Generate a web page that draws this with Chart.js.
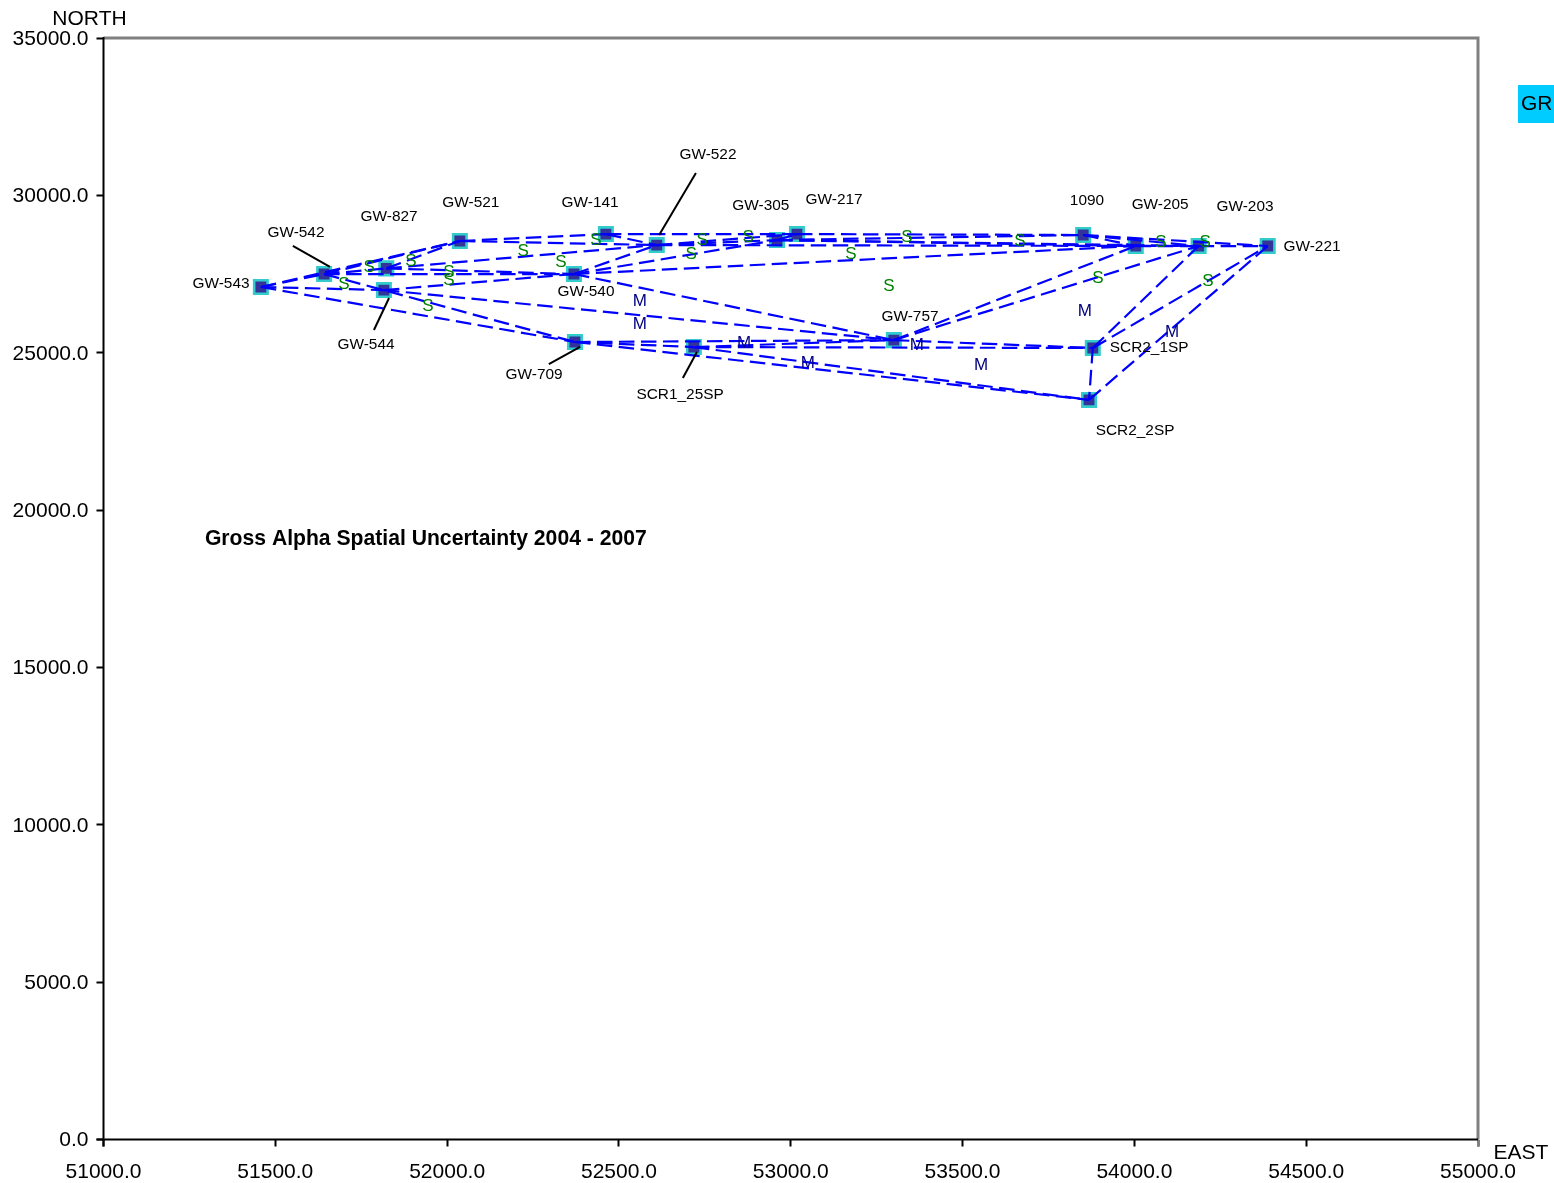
<!DOCTYPE html>
<html><head><meta charset="utf-8">
<style>html,body{margin:0;padding:0;background:#fff;overflow:hidden}canvas{display:block}</style>
<script src="https://cdn.jsdelivr.net/npm/chart.js@4"></script>
</head><body><canvas id="c" width="1554" height="1183" style="width:1554px;height:1183px"></canvas>
<script>
const wellNames=["GW-543","GW-542","GW-827","GW-544","GW-521","GW-141","GW-522","GW-540","GW-709","SCR1_25SP","GW-305","GW-217","GW-757","1090","GW-205","GW-203","GW-221","SCR2_1SP","SCR2_2SP"];
const wellEast=[51458,51642,51823,51816,52037,52462,52610,52369,52372,52718,52960,53018,53300,53851,54004,54187,54388,53879,53868];
const wellNorth=[27088,27500,27680,26990,28550,28770,28420,27500,25340,25180,28580,28770,25400,28740,28390,28390,28390,25150,23500];
const labelEast=[51342,51560,51831,51764,52069,52416,52759,52404,52253,52678,52913,53126,53347,53862,54075,54322,54517,54043,54002];
const labelNorth=[27215,28836,29344,25277,29789,29789,31314,26961,24324,23688,29694,29885,26167,29852,29726,29662,28391,25182,22545];
const edges=[["GW-543","GW-542"],["GW-543","GW-521"],["GW-543","GW-544"],["GW-543","GW-709"],
["GW-542","GW-521"],["GW-542","GW-827"],["GW-542","GW-540"],["GW-542","GW-709"],["GW-827","GW-521"],["GW-827","GW-540"],["GW-827","GW-522"],
["GW-544","GW-540"],["GW-544","GW-757"],["GW-521","GW-141"],["GW-521","GW-522"],["GW-141","GW-522"],["GW-141","GW-217"],
["GW-540","GW-522"],["GW-540","GW-305"],["GW-540","GW-205"],["GW-540","GW-757"],["GW-522","GW-305"],["GW-522","GW-217"],["GW-522","GW-203"],["GW-305","GW-217"],
["GW-217","1090"],["GW-305","1090"],["GW-305","GW-205"],["GW-305","GW-203"],["1090","GW-205"],["1090","GW-203"],["1090","GW-221"],["GW-205","GW-203"],["GW-203","GW-221"],
["GW-709","SCR1_25SP"],["GW-709","GW-757"],["GW-709","SCR2_2SP"],["SCR1_25SP","GW-757"],["SCR1_25SP","SCR2_1SP"],["SCR1_25SP","SCR2_2SP"],
["GW-757","SCR2_1SP"],["GW-757","GW-205"],["GW-757","GW-203"],["SCR2_1SP","GW-203"],["SCR2_1SP","GW-221"],["SCR2_1SP","SCR2_2SP"],["SCR2_2SP","GW-221"]];
const sEast=[51700,51773,51895,51944,52005,52005,52221,52331,52433,52710,52742,52876,53175,53286,53338,53667,54077,54206,53894,54214];
const sNorth=[27215,27756,27946,26516,27597,27342,28264,27914,28613,28169,28613,28709,28169,27152,28709,28582,28550,28550,27406,27311];
const mEast=[52561,52561,52864,53050,53367,53554,53856,54110];
const mNorth=[26675,25944,25340,24705,25277,24641,26358,25690];
const leaderLines=[[[51551,28391],[51659,27724]],[[52724,30710],[52617,28741]],[[51787,25722],[51831,26739]],[[52296,24641],[52387,25182]],[[52686,24197],[52727,25023]]];
const chartTitle="Gross Alpha Spatial Uncertainty 2004 - 2007";
const titleEast=51938, titleNorth=19113;
const xTicks=[51000,51500,52000,52500,53000,53500,54000,54500,55000];
const yTicks=[0,5000,10000,15000,20000,25000,30000,35000];

const FONT='"Liberation Sans",Arial,sans-serif';
const idx=n=>wellNames.indexOf(n);
const wellPts=wellEast.map((x,i)=>({x,y:wellNorth[i]}));
const datasets=[];
edges.forEach(([a,b])=>datasets.push({type:'line',data:[wellPts[idx(a)],wellPts[idx(b)]],borderColor:'#0000FF',borderWidth:2.2,borderDash:[15.5,6.5],pointRadius:0,fill:false,tension:0,order:2}));
leaderLines.forEach(l=>datasets.push({type:'line',data:l.map(p=>({x:p[0],y:p[1]})),borderColor:'#000',borderWidth:2,pointRadius:0,fill:false,order:1}));
datasets.push({type:'scatter',data:wellPts,pointStyle:'rect',pointRadius:9.5,pointBackgroundColor:'#333399',pointBorderColor:'#33CCCC',pointBorderWidth:2.6,showLine:false,order:5});

const drawText={id:'drawText',afterDatasetsDraw(ch){
  const c=ch.ctx,X=ch.scales.x,Y=ch.scales.y;c.save();
  c.textAlign='center';c.textBaseline='middle';
  c.font='17px '+FONT;c.fillStyle='#008000';
  sEast.forEach((x,i)=>c.fillText('S',X.getPixelForValue(x),Y.getPixelForValue(sNorth[i])+1));
  c.fillStyle='#000080';
  mEast.forEach((x,i)=>c.fillText('M',X.getPixelForValue(x),Y.getPixelForValue(mNorth[i])+1));
  c.font='15.4px '+FONT;c.fillStyle='#000';
  wellNames.forEach((n,i)=>c.fillText(n,X.getPixelForValue(labelEast[i]),Y.getPixelForValue(labelNorth[i])+1));
  c.font='bold 21.15px '+FONT;
  c.fillText(chartTitle,X.getPixelForValue(titleEast),Y.getPixelForValue(titleNorth)+1);
  const a=ch.chartArea;
  c.font='21px '+FONT;
  c.fillText('NORTH',a.left-14,a.top-19);
  c.fillText('EAST',a.right+43,a.bottom+14);
  c.fillStyle='#00CCFF';c.fillRect(a.right+40,a.top+47,36,38);
  c.fillStyle='#000';c.textAlign='left';c.font='21px '+FONT;
  c.fillText('GR',a.right+43,a.top+66);
  c.lineCap='butt';
  c.strokeStyle='#808080';c.lineWidth=3;
  c.beginPath();c.moveTo(a.left,a.top);c.lineTo(a.right,a.top);c.lineTo(a.right,a.bottom);c.stroke();
  c.lineWidth=2;c.beginPath();c.moveTo(a.right,a.bottom);c.lineTo(a.right,a.bottom+7);c.stroke();
  c.strokeStyle='#000';c.lineWidth=2;
  c.beginPath();c.moveTo(a.left,a.top-1);c.lineTo(a.left,a.bottom+7);c.stroke();
  c.beginPath();c.moveTo(a.left-7,a.bottom);c.lineTo(a.right,a.bottom);c.stroke();
  c.restore();
}};

new Chart(document.getElementById('c'),{type:'scatter',data:{datasets},plugins:[drawText],options:{
  responsive:false,devicePixelRatio:1,animation:false,
  layout:{padding:{left:0,top:38,right:76,bottom:0}},
  plugins:{legend:{display:false},title:{display:false},tooltip:{enabled:false}},
  scales:{
    x:{type:'linear',min:51000,max:55000,afterBuildTicks:s=>{s.ticks=xTicks.map(v=>({value:v}))},
       afterFit:s=>{s.height=43.5},
       grid:{drawOnChartArea:false,drawTicks:true,tickLength:7,tickWidth:2,tickColor:'#000'},border:{display:false},
       ticks:{maxRotation:0,autoSkip:false,padding:13,color:'#000',font:{family:FONT,size:21},callback:v=>v.toFixed(1)}},
    y:{type:'linear',min:0,max:35000,afterBuildTicks:s=>{s.ticks=yTicks.map(v=>({value:v}))},
       afterFit:s=>{s.width=103.5},
       grid:{drawOnChartArea:false,drawTicks:true,tickLength:7,tickWidth:2,tickColor:'#000'},border:{display:false},
       ticks:{autoSkip:false,padding:8,labelOffset:1,color:'#000',font:{family:FONT,size:21},callback:v=>v.toFixed(1)}}
  }}});
</script></body></html>
